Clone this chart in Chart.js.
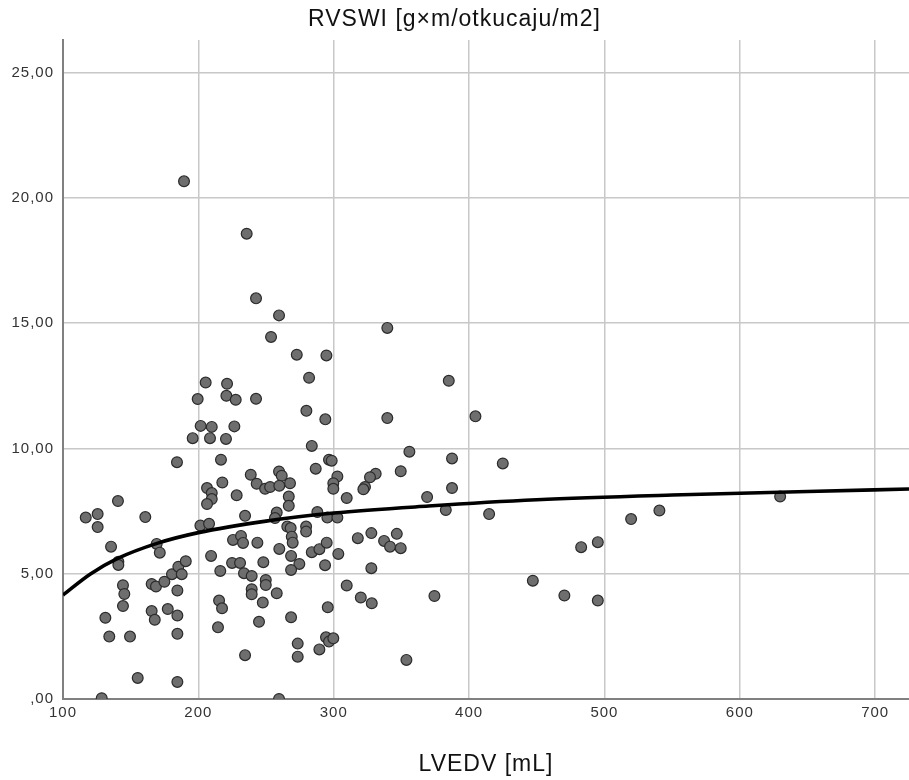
<!DOCTYPE html>
<html>
<head>
<meta charset="utf-8">
<script src="https://cdn.jsdelivr.net/npm/chart.js@4/dist/chart.umd.min.js"></script>
<style>
  html, body { margin: 0; padding: 0; background: #ffffff; }
  #wrap { width: 909px; height: 780px; }
</style>
</head>
<body>
<div id="wrap"><canvas id="c" width="909" height="780"></canvas></div>
<script>
// ---- Data ----
const lvedv = [
  116.8,125.6,125.6,135.5,140.6,140.9,140.9,144.3,145.3,144.3,
  131.3,134.2,149.5,128.6,155.2,160.8,169.2,171.5,165.5,168.7,
  174.9,180.5,185.2,187.7,190.7,184.5,165.5,167.8,177.4,184.5,
  184.5,184.5,184.2,189.4,209.4,216.2,215.3,217.5,214.5,224.9,
  230.8,201.5,207.9,225.6,231.5,233.0,205.4,221.2,199.5,220.7,
  227.6,201.7,209.9,226.6,195.8,208.6,220.4,216.7,217.7,206.4,
  209.9,209.9,206.4,228.3,235.7,242.6,259.6,339.6,253.7,272.7,
  294.6,281.8,242.6,279.8,293.8,339.6,283.8,355.9,296.5,298.5,
  286.7,238.7,259.6,261.6,331.0,326.8,349.5,243.1,249.3,253.0,
  259.8,267.7,302.7,299.7,299.7,323.1,321.9,309.6,369.0,266.8,
  266.8,234.5,257.9,256.6,287.9,295.3,302.7,265.7,268.2,279.6,
  279.6,269.0,269.7,243.6,259.8,268.5,283.8,289.4,294.8,303.4,
  317.8,327.8,337.2,341.6,346.6,349.5,233.7,239.4,248.0,274.6,
  268.5,293.6,327.8,249.8,249.8,239.4,239.4,257.9,247.6,309.6,
  320.0,328.1,295.6,244.8,268.5,273.4,273.4,294.3,296.5,299.7,
  289.4,234.5,353.7,259.6,385.0,404.7,387.4,424.9,387.4,382.8,
  414.8,629.8,540.6,519.7,482.8,495.1,374.4,447.1,470.4,495.1
];
const rvswi = [
  7.24,7.38,6.86,6.08,7.90,5.48,5.35,4.54,4.19,3.71,
  3.24,2.49,2.49,0.03,0.84,7.26,6.19,5.84,4.59,4.49,
  4.68,4.98,5.28,4.98,5.50,4.33,3.51,3.16,3.59,3.33,
  2.60,0.68,9.45,20.66,5.71,5.11,3.93,3.62,2.86,5.43,
  5.43,6.92,6.99,6.35,6.51,6.23,12.63,12.58,11.97,12.10,
  11.94,10.90,10.86,10.88,10.41,10.41,10.38,9.55,8.64,8.42,
  8.22,7.98,7.78,8.13,18.57,15.99,15.31,14.81,14.45,13.74,
  13.71,12.82,11.98,11.50,11.16,11.21,10.10,9.87,9.55,9.51,
  9.19,8.95,9.08,8.91,8.99,8.85,9.09,8.59,8.39,8.46,
  8.51,8.61,8.88,8.61,8.39,8.46,8.37,8.02,8.06,8.08,
  7.71,7.31,7.44,7.22,7.46,7.24,7.24,6.88,6.82,6.88,
  6.68,6.48,6.24,6.24,5.99,5.71,5.86,5.98,6.24,5.79,
  6.42,6.62,6.31,6.08,6.59,6.02,5.02,4.91,5.46,5.39,
  5.15,5.34,5.22,4.75,4.55,4.38,4.18,4.22,3.85,4.53,
  4.05,3.82,3.66,3.08,3.26,2.21,1.69,2.46,2.29,2.42,
  1.98,1.75,1.56,0.00,12.70,11.28,9.60,9.40,8.42,7.54,
  7.38,8.08,7.52,7.18,6.06,6.26,4.11,4.72,4.13,3.93
];
// fitted curve
const fitX = [100, 120, 140, 170, 200, 250, 300, 370, 450, 550, 650, 725];
const fitY = [4.15, 4.98, 5.60, 6.22, 6.64, 7.10, 7.42, 7.70, 7.95, 8.14, 8.28, 8.38];

const xTicks = [100, 200, 300, 400, 500, 600, 700];
const yTicks = [0, 5, 10, 15, 20, 25];
const yTickLabels = [',00', '5,00', '10,00', '15,00', '20,00', '25,00'];

const titleText = 'RVSWI [g×m/otkucaju/m2]';
const xTitleText = 'LVEDV [mL]';

// ---- Build chart ----
const points = lvedv.map((x, i) => ({ x: x, y: rvswi[i] }));
const fit = fitX.map((x, i) => ({ x: x, y: fitY[i] }));
const FONT = "'Liberation Sans', Arial, sans-serif";

const spacingPlugin = {
  id: 'spacing',
  beforeDraw(chart) { chart.ctx.letterSpacing = '1px'; }
};

new Chart(document.getElementById('c'), {
  type: 'scatter',
  plugins: [spacingPlugin],
  data: {
    datasets: [
      {
        type: 'line',
        data: fit,
        showLine: true,
        borderColor: '#000000',
        borderWidth: 3.6,
        pointRadius: 0,
        fill: false,
        cubicInterpolationMode: 'monotone',
        order: 0,
        clip: 0
      },
      {
        data: points,
        backgroundColor: '#6e6e6e',
        borderColor: '#2b2b2b',
        borderWidth: 1.2,
        pointRadius: 5.4,
        pointHoverRadius: 5.4,
        order: 1,
        clip: 0
      }
    ]
  },
  options: {
    responsive: false,
    animation: false,
    layout: { autoPadding: false, padding: { left: 0, right: 0, top: 0, bottom: 0 } },
    plugins: {
      legend: { display: false },
      tooltip: { enabled: false },
      title: {
        display: true,
        text: titleText,
        color: '#111111',
        font: { family: FONT, size: 23, weight: 'normal', lineHeight: 1.2 },
        padding: { top: 6, bottom: 6.4 }
      }
    },
    scales: {
      x: {
        type: 'linear',
        min: 100,
        max: 725,
        afterBuildTicks: (s) => { s.ticks = xTicks.map(v => ({ value: v })); },
        afterFit: (s) => { s.height = 81; s.paddingRight = 0; s.paddingLeft = 0; },
        ticks: {
          color: '#333333',
          font: { family: FONT, size: 15 },
          padding: 5,
          maxRotation: 0,
          autoSkip: false,
          callback: (v) => String(v)
        },
        grid: { color: '#c8c8c8', lineWidth: 1.5, drawTicks: false },
        border: { color: '#808080', width: 2 },
        title: {
          display: true,
          text: xTitleText,
          color: '#111111',
          font: { family: FONT, size: 23, weight: 'normal', lineHeight: 1.2 },
          padding: { top: 0, bottom: 1.5 }
        }
      },
      y: {
        type: 'linear',
        min: 0,
        max: 26.3,
        afterBuildTicks: (s) => { s.ticks = yTicks.map(v => ({ value: v })); },
        afterFit: (s) => { s.width = 63; s.paddingTop = 0; s.paddingBottom = 0; },
        ticks: {
          color: '#333333',
          font: { family: FONT, size: 15 },
          padding: 9,
          autoSkip: false,
          callback: (v) => { const i = yTicks.indexOf(v); return i >= 0 ? yTickLabels[i] : ''; }
        },
        grid: { color: '#c8c8c8', lineWidth: 1.5, drawTicks: false },
        border: { color: '#808080', width: 2 }
      }
    }
  }
});
</script>
</body>
</html>
